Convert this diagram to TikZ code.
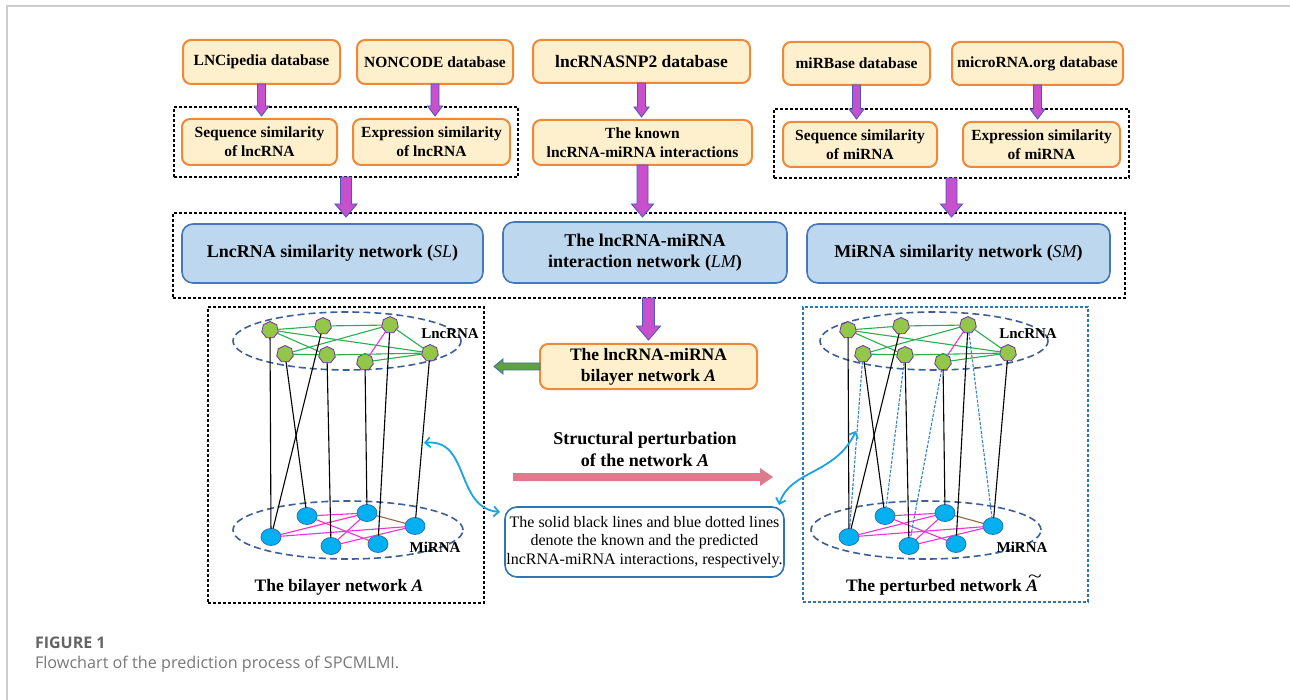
\documentclass[tikz,border=0pt]{standalone}
\usepackage{fontspec}
\setmainfont{Liberation Serif}
\newfontfamily\capfont{Open Sans}
\usetikzlibrary{calc,shapes.geometric,arrows.meta}

\definecolor{dbfill}{RGB}{255,240,205}
\definecolor{dbline}{RGB}{240,136,58}
\definecolor{netfill}{RGB}{189,215,238}
\definecolor{netline}{RGB}{70,120,185}
\definecolor{purplearrow}{RGB}{200,80,205}
\definecolor{purpleedge}{RGB}{70,90,190}
\definecolor{greenarrow}{RGB}{95,160,67}
\definecolor{greenedge}{RGB}{65,113,156}
\definecolor{pinkarrow}{RGB}{222,122,140}
\definecolor{notebord}{RGB}{46,117,182}
\definecolor{curvearrow}{RGB}{27,163,226}
\definecolor{ringcol}{RGB}{62,94,150}
\definecolor{lncfill}{RGB}{146,199,74}
\definecolor{lncbord}{RGB}{112,48,160}
\definecolor{lncedge}{RGB}{40,175,80}
\definecolor{mifill}{RGB}{0,176,240}
\definecolor{mibord}{RGB}{46,117,182}
\definecolor{miedge}{RGB}{240,50,210}
\definecolor{brownedge}{RGB}{140,105,70}
\definecolor{predcol}{RGB}{50,130,205}
\definecolor{framegray}{RGB}{205,205,205}
\definecolor{capgray}{RGB}{100,100,100}
\definecolor{capgraylight}{RGB}{120,120,120}

% vertical block arrow: [style]{from}{to}{shaft half width}{head half width}{head length}
\newcommand\vblock[6][]{%
  \path[#1] let \p1=(#2), \p2=(#3) in
    (\x1-#4,\y1) -- (\x1+#4,\y1) -- (\x1+#4,\y2+#6) -- (\x1+#5,\y2+#6) --
    (\x1,\y2) -- (\x1-#5,\y2+#6) -- (\x1-#4,\y2+#6) -- cycle;}
% horizontal block arrow: head length is signed (positive = points left)
\newcommand\hblock[6][]{%
  \path[#1] let \p1=(#2), \p2=(#3) in
    (\x1,\y1-#4) -- (\x2+#6,\y1-#4) -- (\x2+#6,\y1-#5) -- (\x2,\y1) --
    (\x2+#6,\y1+#5) -- (\x2+#6,\y1+#4) -- (\x1,\y1+#4) -- cycle;}
% bold italic A with a wide thin tilde above it
\newcommand\tildeA{\leavevmode\rlap{\raisebox{0.5em}[0pt][0pt]{\kern1.8pt\scalebox{1.45}[1.05]{\mdseries\upshape\char"007E}}}\textit{A}}

\tikzset{
  x=1pt, y=-1pt,
  every node/.style={inner sep=0pt, outer sep=0pt},
  db/.style={draw=dbline, fill=dbfill, line width=2pt, rounded corners=8pt,
    align=center, font=\fontsize{15.5}{19}\selectfont\bfseries},
  netbox/.style={draw=netline, fill=netfill, line width=1.6pt, rounded corners=11pt,
    align=center, font=\fontsize{18}{20.5}\selectfont\bfseries},
  groupbox/.style={draw=black, line width=1.3pt, dash pattern=on 3pt off 2pt},
  predbox/.style={draw=notebord, line width=1.3pt, dash pattern=on 3pt off 2pt},
  notebox/.style={draw=notebord, fill=white, line width=1.6pt, rounded corners=12pt,
    align=center, font=\fontsize{16}{18.5}\selectfont},
  layerring/.style={draw=ringcol, line width=1.6pt, dash pattern=on 7pt off 4pt},
  lnc/.style={regular polygon, regular polygon sides=7, minimum size=17pt,
    fill=lncfill, draw=lncbord, line width=0.8pt},
  mi/.style={ellipse, minimum width=20pt, minimum height=17pt,
    fill=mifill, draw=mibord, line width=0.8pt},
  lncline/.style={draw=lncedge, line width=1.1pt},
  miline/.style={draw=miedge, line width=1.1pt},
  knownline/.style={draw=black, line width=1.1pt},
  predline/.style={draw=predcol, line width=1.1pt, dash pattern=on 3pt off 1.5pt},
  layerlabel/.style={font=\fontsize{15}{17}\selectfont\bfseries},
  nettitle/.style={font=\fontsize{17.5}{20}\selectfont\bfseries},
  purpleblock/.style={fill=purplearrow, draw=purpleedge, line width=0.9pt},
  greenblock/.style={fill=greenarrow, draw=greenedge, line width=0.9pt},
  pinkblock/.style={fill=pinkarrow},
  curvy/.style={draw=curvearrow, line width=1.8pt,
    {Straight Barb[length=5pt,width=10pt]}-{Straight Barb[length=5pt,width=10pt]}},
}

% one bilayer network: #1 name prefix, #2 horizontal shift, #3 extra shift of the upper ring
\newcommand\bilayer[3]{%
  \begin{scope}[xshift=#2]
    \draw[layerring] (347+#3,341) ellipse [x radius=114pt, y radius=29pt];
    \draw[layerring] (348,530) ellipse [x radius=115pt, y radius=29pt];
    \node[layerlabel] (#1lnclab) at (450,334) {LncRNA};
    \node[layerlabel] (#1milab) at (435+#3,547) {MiRNA};
    \node[lnc] (#1L1) at (270,330) {};
    \node[lnc] (#1L2) at (323,326) {};
    \node[lnc] (#1L3) at (390,325) {};
    \node[lnc] (#1L4) at (285,354) {};
    \node[lnc] (#1L5) at (327,355) {};
    \node[lnc] (#1L6) at (365,362) {};
    \node[lnc] (#1L7) at (430,353) {};
    \node[mi] (#1M1) at (271,537) {};
    \node[mi] (#1M2) at (307,516) {};
    \node[mi] (#1M3) at (367,513) {};
    \node[mi] (#1M4) at (331,546) {};
    \node[mi] (#1M5) at (378,544) {};
    \node[mi] (#1M6) at (415,526) {};
  \end{scope}
  % lncRNA similarity edges
  \draw[lncline] (#1L1) -- (#1L2);
  \draw[lncline] (#1L2) -- (#1L3);
  \draw[lncline] (#1L3) -- (#1L7);
  \draw[lncline] (#1L1) -- (#1L7);
  \draw[lncline] (#1L1) -- (#1L5);
  \draw[lncline] (#1L4) -- (#1L3);
  \draw[lncline] (#1L4) -- (#1L5);
  \draw[lncline] (#1L5) -- (#1L7);
  \draw[lncline] (#1L6) -- (#1L7);
  \draw[miline] (#1L3) -- (#1L6);
  % miRNA similarity edges
  \draw[miline] (#1M1) -- (#1M6);
  \draw[miline] (#1M1) -- (#1M3);
  \draw[miline] (#1M2) -- (#1M3);
  \draw[miline] (#1M2) -- (#1M5);
  \draw[miline] (#1M4) -- (#1M3);
  \draw[miline] (#1M4) -- (#1M6);
  \draw[draw=brownedge, line width=1.1pt] (#1M3) -- (#1M6);
  % known lncRNA-miRNA interactions
  \draw[knownline] (#1L1) -- (#1M1);
  \draw[knownline] (#1L2) -- (#1M1);
  \draw[knownline] (#1L4) -- (#1M2);
  \draw[knownline] (#1L5) -- (#1M4);
  \draw[knownline] (#1L6) -- (#1M3);
  \draw[knownline] (#1L3) -- (#1M5);
  \draw[knownline] (#1L7) -- (#1M6);
}

\begin{document}
\begin{tikzpicture}
\useasboundingbox (0,0) rectangle (1290,700);
\fill[white] (0,0) rectangle (1290,700);
\draw[framegray, line width=1.5pt] (7,700) -- (7,6) -- (1290,6);

% data sources
\node[db, minimum width=157pt, minimum height=44pt] (lnci) at (261.5,62) {LNCipedia database};
\node[db, minimum width=156pt, minimum height=44pt] (nonc) at (435,62) {NONCODE database};
\node[db, minimum width=217pt, minimum height=43pt, font=\fontsize{17.5}{20}\selectfont\bfseries] (snp) at (641.5,61.5) {lncRNASNP2 database};
\node[db, minimum width=147pt, minimum height=43pt] (mirb) at (856.5,63.5) {miRBase database};
\node[db, minimum width=171pt, minimum height=43pt] (mirorg) at (1037.5,63.5) {microRNA.org database};

% derived similarities and interactions
\node[groupbox, minimum width=344pt, minimum height=70pt] (lgrp) at (346,142) {};
\node[groupbox, minimum width=355pt, minimum height=69pt] (rgrp) at (951.5,143.5) {};
\node[db, minimum width=155pt, minimum height=46pt] (seqL) at (259.5,142) {Sequence similarity\\of lncRNA};
\node[db, minimum width=157pt, minimum height=46pt] (expL) at (431.5,142) {Expression similarity\\of lncRNA};
\node[db, minimum width=219pt, minimum height=45pt] (known) at (642.5,142.5) {The known\\lncRNA-miRNA interactions};
\node[db, minimum width=154pt, minimum height=45pt] (seqM) at (860,144.5) {Sequence similarity\\of miRNA};
\node[db, minimum width=157pt, minimum height=45pt] (expM) at (1041.5,144.5) {Expression similarity\\of miRNA};

% networks
\node[groupbox, minimum width=952pt, minimum height=85pt] (big) at (649,255.5) {};
\node[netbox, minimum width=301pt, minimum height=59pt] (SL) at (332.5,253.5) {LncRNA similarity network ({\normalfont\itshape SL})};
\node[netbox, minimum width=284pt, minimum height=61pt] (LM) at (645,252.5) {The lncRNA-miRNA\\interaction network ({\normalfont\itshape LM})};
\node[netbox, minimum width=303pt, minimum height=59pt] (SM) at (958.5,253.5) {MiRNA similarity network ({\normalfont\itshape SM})};

\node[db, minimum width=217pt, minimum height=45pt, font=\fontsize{17.5}{21}\selectfont\bfseries] (bil) at (648.5,366.5) {The lncRNA-miRNA\\bilayer network \textit{A}};

% block arrows
\vblock[purpleblock]{lnci.south}{$(seqL.north)+(0,-3)$}{4pt}{7.5pt}{10pt}
\vblock[purpleblock]{nonc.south}{$(expL.north)+(0,-3)$}{4pt}{7.5pt}{10pt}
\vblock[purpleblock]{snp.south}{$(known.north)+(0,-3)$}{4pt}{7.5pt}{10pt}
\vblock[purpleblock]{mirb.south}{$(seqM.north)+(0,-3)$}{4pt}{7.5pt}{10pt}
\vblock[purpleblock]{mirorg.south}{$(expM.north)+(0,-3)$}{4pt}{7.5pt}{10pt}
\vblock[purpleblock]{lgrp.south}{$(lgrp.south |- big.north)+(0,4)$}{5.5pt}{11pt}{13pt}
\vblock[purpleblock]{known.south}{$(known.south |- big.north)+(0,4)$}{5.5pt}{11pt}{13pt}
\vblock[purpleblock]{rgrp.south}{$(rgrp.south |- big.north)+(0,4)$}{5.5pt}{11pt}{13pt}
\vblock[purpleblock]{bil.north |- big.south}{$(bil.north)+(0,-4)$}{6pt}{12pt}{14pt}

% the two bilayer networks
\node[groupbox, minimum width=276pt, minimum height=296pt] (lbox) at (346,455) {};
\node[predbox, minimum width=285pt, minimum height=295pt] (rbox) at (945.5,454.5) {};
\bilayer{a}{0pt}{0}
\bilayer{b}{578pt}{9}
\draw[predline] (bL4) -- (bM1);
\draw[predline] (bL5) -- (bM2);
\draw[predline] (bL6) -- (bM4);
\draw[predline] (bL3) -- (bM6);
\node[nettitle] (atitle) at (339,587) {The bilayer network \textit{A}};
\node[nettitle] (btitle) at (942,587) {The perturbed network \tildeA};

\hblock[greenblock]{bil.west}{$(lbox.east |- bil.west)+(10,0)$}{3.5pt}{7.5pt}{9pt}

% perturbation step
\node[font=\fontsize{18}{22}\selectfont\bfseries, align=center] (pert) at (645,449) {Structural perturbation\\of the network \textit{A}};
\coordinate (pertS) at (513,477);
\coordinate (pertE) at (773,477);
\hblock[pinkblock]{pertS}{pertE}{4pt}{9pt}{-13pt}

\node[notebox, minimum width=279pt, minimum height=70pt] (annot) at (644.5,542)
  {The solid black lines and blue dotted lines\\denote the known and the predicted\\lncRNA-miRNA interactions, respectively.};

\coordinate (lhook) at (424,443);
\coordinate (rhook) at (856,431);
\draw[curvy] (lhook) .. controls (470,438) and (455,508) .. ([xshift=-5pt,yshift=-5pt]annot.north west);
\draw[curvy] ([xshift=-5pt,yshift=2pt]annot.north east) .. controls (790,470) and (835,475) .. (rhook);

% caption
\node[anchor=base west, font=\capfont\fontsize{16}{20}\selectfont\bfseries, text=capgray] (figlab) at (35,648) {FIGURE 1};
\node[anchor=base west, font=\capfont\fontsize{16.2}{20}\selectfont, text=capgraylight] (figcap) at (35,668) {Flowchart of the prediction process of SPCMLMI.};
\end{tikzpicture}
\end{document}
